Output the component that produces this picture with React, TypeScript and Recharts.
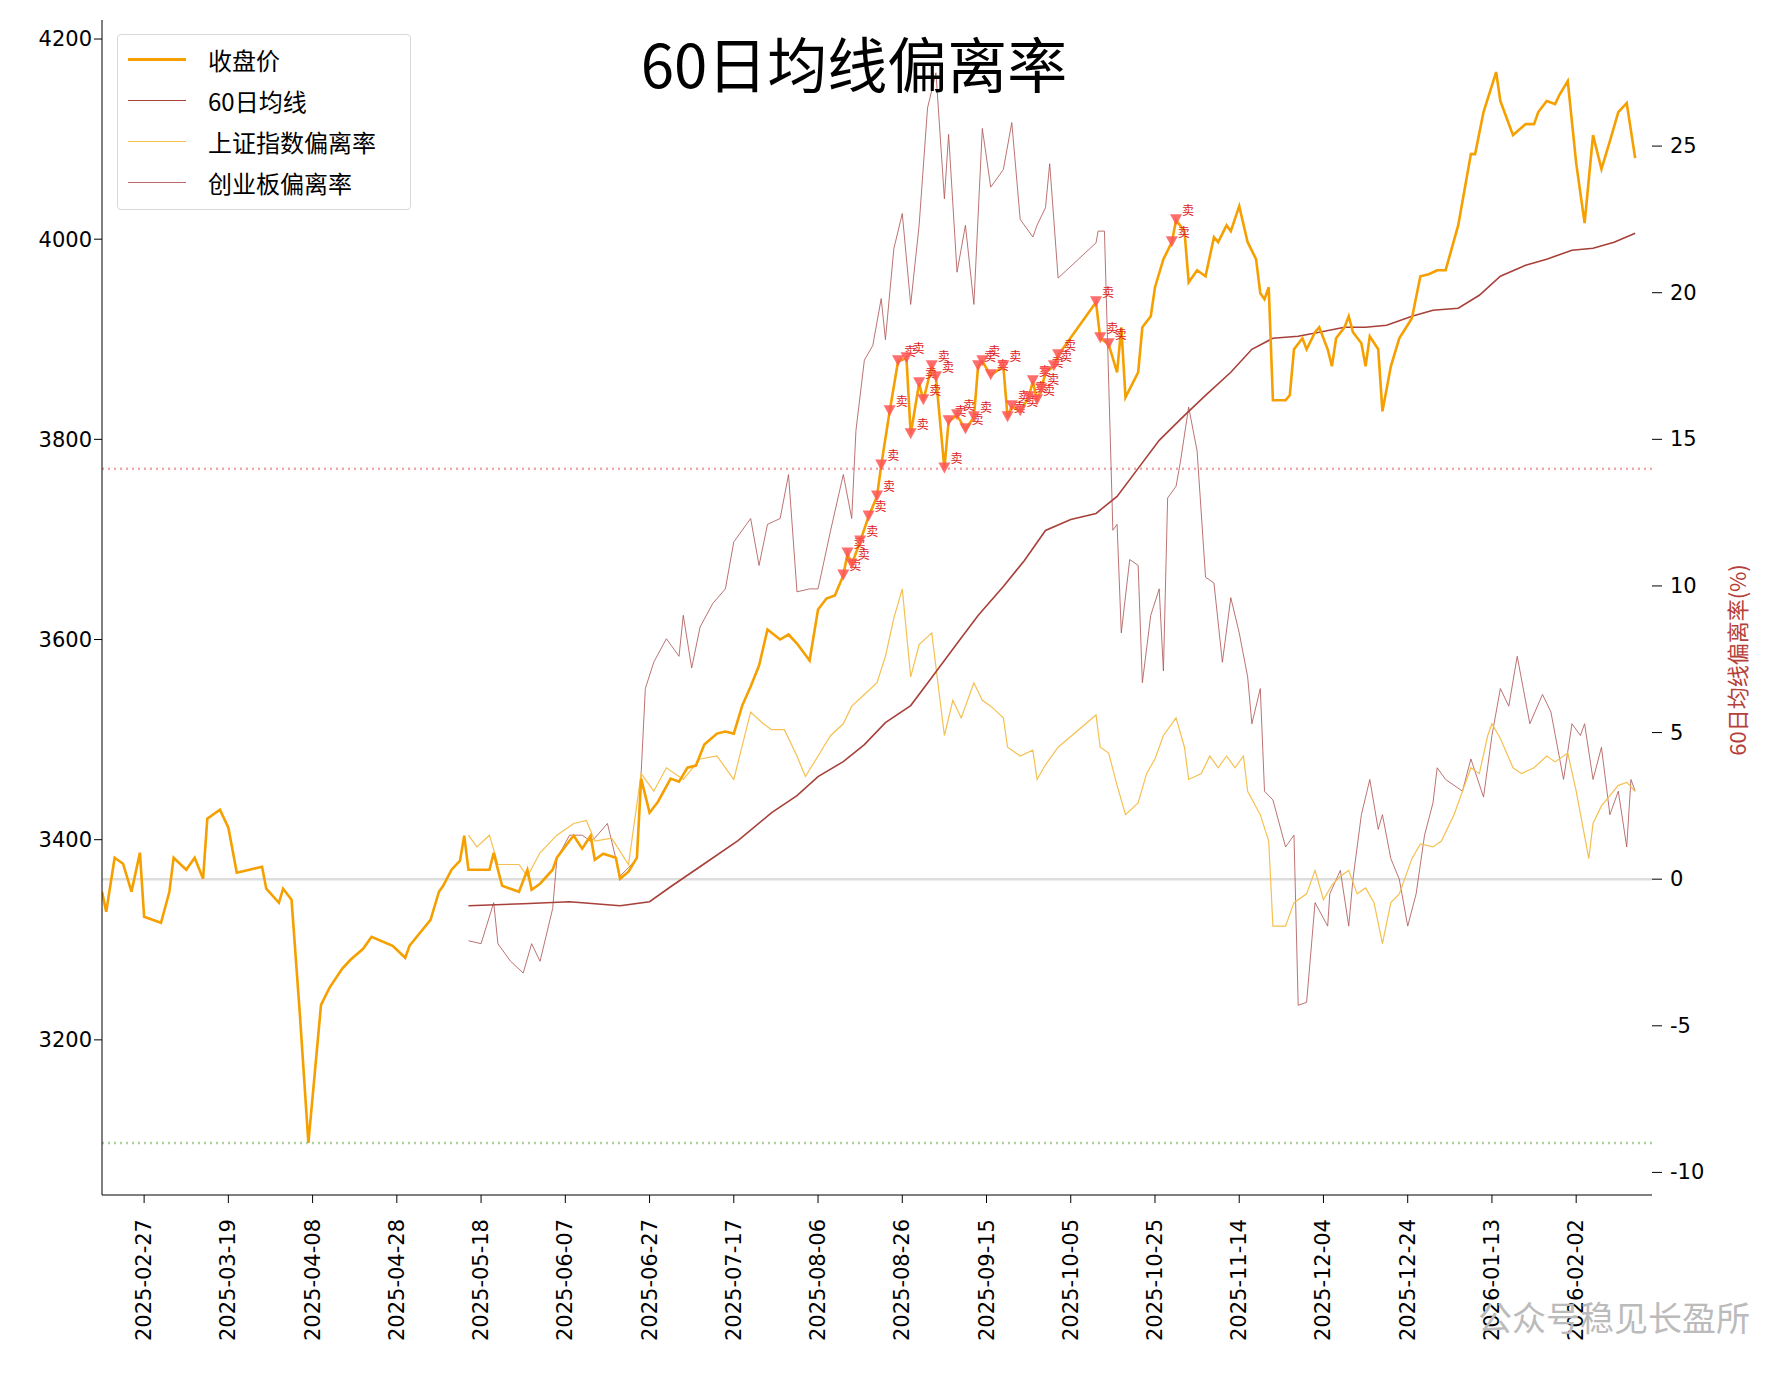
import React from 'react';
import {
  ComposedChart,
  Line,
  Scatter,
  XAxis,
  YAxis,
  ReferenceLine,
} from 'recharts';

// x values are day offsets from 2025-02-27
const tickDays = [0, 20, 40, 60, 80, 100, 120, 140, 160, 180, 200, 220, 240, 260, 280, 300, 320, 340];
const tickLabels = [
  '2025-02-27', '2025-03-19', '2025-04-08', '2025-04-28', '2025-05-18', '2025-06-07',
  '2025-06-27', '2025-07-17', '2025-08-06', '2025-08-26', '2025-09-15', '2025-10-05',
  '2025-10-25', '2025-11-14', '2025-12-04', '2025-12-24', '2026-01-13', '2026-02-02',
];

const closeDays = [
  -10, -9, -7, -5, -3, -1, 0, 4, 6, 7, 10, 12, 14, 15, 18, 20, 22, 25, 28, 29, 32, 33, 35, 37, 39,
  42, 44, 47, 49, 52, 54, 59, 62, 63, 68, 70, 71, 73, 75, 76, 77, 79, 82, 83, 84, 85, 89, 91, 92,
  94, 97, 98, 101, 102, 104, 106, 107, 109, 112, 113, 115, 117, 118, 120, 122, 125, 127, 129, 131,
  133, 136, 138, 140, 142, 144, 146, 148, 151, 153, 155, 158, 160, 162, 164, 166, 167, 168, 170,
  172, 174, 175, 177, 179, 181, 182, 184, 185, 187, 188, 190, 191, 193, 195, 197, 198, 199, 201,
  204, 205, 206, 208, 210, 211, 212, 213, 214, 216, 217, 226, 227, 229, 231, 232, 233, 236, 237,
  239, 240, 242, 244, 245, 247, 248, 250, 252, 254, 255, 257, 258, 260, 262, 264, 265, 266, 267,
  268, 271, 272, 273, 275, 276, 278, 279, 281, 282, 283, 285, 286, 287, 289, 290, 291, 293, 294,
  296, 298, 301, 303, 305, 307, 309, 312, 315, 316, 318, 321, 322, 325, 328, 330, 331, 333, 335,
  336, 338, 340, 342, 344, 346, 348, 350, 352, 354,
];
const closeVals = [
  3348, 3328, 3382, 3376, 3348, 3387, 3323, 3317, 3348, 3382, 3370, 3382, 3361, 3421, 3430, 3412,
  3367, 3370, 3373, 3351, 3337, 3351, 3340, 3224, 3097, 3235, 3252, 3271, 3280, 3291, 3303, 3294,
  3282, 3294, 3320, 3348, 3354, 3370, 3379, 3404, 3370, 3370, 3370, 3387, 3370, 3354, 3348, 3370,
  3350, 3356, 3370, 3382, 3399, 3404, 3391, 3404, 3380, 3386, 3382, 3361, 3368, 3382, 3461, 3427,
  3438, 3461, 3458, 3472, 3474, 3495, 3506, 3508, 3506, 3534, 3553, 3574, 3610, 3600, 3605, 3596,
  3579, 3630, 3641, 3644, 3664, 3686, 3675, 3698, 3723, 3743, 3774, 3828, 3878, 3881, 3805, 3856,
  3839, 3873, 3862, 3771, 3818, 3824, 3810, 3822, 3873, 3878, 3864, 3873, 3822, 3833, 3828, 3842,
  3858, 3839, 3850, 3867, 3873, 3884, 3937, 3901, 3895, 3867, 3912, 3842, 3867, 3912, 3923, 3952,
  3980, 3997, 4019, 4008, 3957, 3969, 3963, 4002, 3997, 4014, 4008, 4033, 3997, 3980, 3946, 3940,
  3952, 3839, 3839, 3844, 3890, 3901, 3890, 3907, 3912, 3890, 3873, 3901, 3912, 3923, 3907, 3896,
  3873, 3903, 3890, 3828, 3873, 3901, 3921, 3963, 3965, 3969, 3969, 4014, 4085, 4085, 4127, 4167,
  4138, 4104, 4115, 4115, 4127, 4138, 4135, 4144, 4158, 4076, 4016, 4104, 4070, 4098, 4127, 4136,
  4081,
];

const maDays = [
  77, 90, 101, 113, 120, 125, 133, 141, 149, 155, 160, 166, 171, 176, 182, 187, 193, 198, 204, 209,
  214, 220, 226, 231, 236, 241, 247, 252, 258, 263, 268, 274, 279, 285, 290, 295, 301, 306, 312,
  317, 322, 328, 333, 339, 344, 349, 354,
];
const maVals = [
  3334, 3336, 3338, 3334, 3338, 3353, 3376, 3399, 3427, 3444, 3463, 3478, 3495, 3517, 3534, 3562,
  3596, 3624, 3653, 3679, 3709, 3720, 3726, 3743, 3771, 3799, 3824, 3844, 3867, 3890, 3901, 3903,
  3907, 3912, 3912, 3914, 3923, 3929, 3931, 3944, 3963, 3974, 3980, 3989, 3991, 3997, 4006,
];

const shDays = [
  77, 79, 82, 84, 89, 91, 94, 98, 102, 105, 107, 111, 115, 118, 121, 124, 128, 132, 136, 140, 144,
  147, 149, 152, 155, 157, 160, 163, 166, 168, 171, 174, 176, 178, 180, 182, 184, 187, 190, 192,
  194, 197, 199, 201, 204, 205, 208, 211, 212, 214, 217, 226, 227, 229, 231, 233, 236, 238, 240,
  242, 245, 247, 248, 251, 253, 255, 257, 259, 261, 262, 265, 267, 268, 271, 273, 276, 278, 280,
  282, 284, 286, 288, 290, 292, 294, 296, 298, 301, 303, 306, 308, 311, 315, 317, 319, 320, 322,
  325, 327, 330, 333, 335, 338, 340, 343, 344, 346, 350, 352, 354,
];
const shVals = [
  1.5, 1.1, 1.5, 0.5, 0.5, 0.1, 0.9, 1.5, 1.9, 2.0, 1.3, 1.4, 0.5, 3.6, 3.0, 3.8, 3.4, 4.1, 4.2,
  3.4, 5.7, 5.3, 5.1, 5.1, 4.2, 3.5, 4.2, 4.9, 5.3, 5.9, 6.3, 6.7, 7.6, 8.9, 9.9, 6.9, 8.0, 8.4,
  4.9, 6.1, 5.5, 6.7, 6.1, 5.9, 5.5, 4.5, 4.2, 4.4, 3.4, 3.9, 4.5, 5.6, 4.5, 4.3, 3.2, 2.2, 2.6,
  3.6, 4.1, 4.9, 5.5, 4.5, 3.4, 3.6, 4.2, 3.8, 4.2, 3.8, 4.2, 3.0, 2.2, 1.3, -1.6, -1.6, -0.8,
  -0.5, 0.3, -0.7, -0.2, 0.1, 0.3, -0.5, -0.3, -0.8, -2.2, -0.8, -0.5, 0.7, 1.2, 1.1, 1.3, 2.2,
  3.8, 3.6, 4.9, 5.3, 4.8, 3.8, 3.6, 3.8, 4.2, 4.0, 4.3, 3.0, 0.7, 1.9, 2.5, 3.2, 3.3, 3.0,
];

const cyDays = [
  77, 80, 83, 84, 87, 90, 92, 94, 97, 98, 101, 104, 106, 107, 110, 113, 115, 117, 119, 121, 124,
  127, 128, 130, 132, 135, 138, 140, 144, 146, 148, 151, 153, 155, 158, 160, 163, 166, 168, 169,
  171, 173, 175, 176, 178, 180, 182, 184, 186, 188, 190, 191, 193, 195, 197, 199, 201, 204, 206,
  208, 211, 212, 214, 215, 217, 226, 226.5, 228, 230, 231, 232, 234, 236, 237, 239, 241, 242, 243,
  245, 246, 248, 250, 252, 254, 256, 258, 260, 262, 263, 265, 266, 268, 271, 273, 274, 276, 278,
  281, 281.5, 284, 286, 287, 289, 291, 293, 294, 296, 298, 300, 302, 304, 306, 307, 309, 313, 315,
  318, 320, 322, 324, 326, 329, 332, 334, 337, 339, 341, 342, 344, 346, 348, 350, 352, 353, 354,
];
const cyVals = [
  -2.1, -2.2, -0.8, -2.2, -2.8, -3.2, -2.2, -2.8, -1.0, 0.7, 1.5, 1.5, 1.3, 1.4, 1.9, 0.1, 0.4,
  0.7, 6.5, 7.4, 8.2, 7.6, 9.0, 7.2, 8.6, 9.4, 9.9, 11.5, 12.3, 10.7, 12.1, 12.3, 13.8, 9.8, 9.9,
  9.9, 11.9, 13.8, 12.3, 15.3, 17.7, 18.2, 19.8, 18.4, 21.5, 22.7, 19.6, 22.3, 26.3, 27.5, 23.2,
  25.4, 20.7, 22.3, 19.6, 25.6, 23.6, 24.2, 25.8, 22.5, 21.9, 22.3, 22.9, 24.4, 20.5, 21.7, 22.1,
  22.1, 11.9, 12.1, 8.4, 10.9, 10.7, 6.7, 9.0, 9.9, 7.1, 13.0, 13.4, 14.2, 16.1, 14.6, 10.3, 10.1,
  7.4, 9.6, 8.4, 6.9, 5.3, 6.5, 3.0, 2.7, 1.1, 1.5, -4.3, -4.2, -0.8, -1.6, -0.5, 0.3, -1.6, 0.0,
  2.2, 3.4, 1.7, 2.2, 0.7, 0.0, -1.6, -0.5, 1.5, 2.6, 3.8, 3.4, 3.0, 4.1, 2.8, 4.9, 6.5, 5.9, 7.6,
  5.3, 6.3, 5.7, 3.4, 5.3, 4.9, 5.3, 3.4, 4.5, 2.2, 3.0, 1.1, 3.4, 3.0, 1.9, 3.4, 1.7,
];

const sellDays = [
  166, 167, 168, 170, 172, 174, 175, 177, 179, 181, 182, 184, 185, 187, 188, 190, 191, 193, 195,
  197, 198, 199, 201, 204, 205, 206, 208, 210, 211, 212, 213, 214, 216, 217, 226, 227, 229, 244, 245,
];

const closeData = closeDays.map((d, i) => ({ d, v: closeVals[i] }));
const maData = maDays.map((d, i) => ({ d, v: maVals[i] }));
const shData = shDays.map((d, i) => ({ d, v: shVals[i] }));
const cyData = cyDays.map((d, i) => ({ d, v: cyVals[i] }));
const sellData = closeData.filter((p) => sellDays.includes(p.d));

const FONT = '"Noto Sans CJK SC", "Noto Sans", sans-serif';
const NUM_FONT = '"DejaVu Sans", sans-serif';

if (typeof document !== 'undefined') document.body.style.margin = '0';

const SellMark = (props: any) => {
  const { cx, cy } = props;
  if (cx == null || cy == null) return null;
  return (
    <g>
      <path d={`M${cx - 6},${cy - 6} L${cx + 6},${cy - 6} L${cx},${cy + 5} Z`} fill="#ff5555" fillOpacity={0.85} />
      <text x={cx + 6} y={cy - 5} fontSize={12} fill="#dd2222" fontFamily={FONT}>卖</text>
    </g>
  );
};

const DateTick = (props: any) => {
  const { x, y, payload } = props;
  const i = tickDays.indexOf(payload.value);
  return (
    <text x={x} y={y + 14} transform={`rotate(-90 ${x} ${y + 14})`} textAnchor="end" dominantBaseline="central"
      fontSize={21} fill="#000" fontFamily={NUM_FONT}>
      {i >= 0 ? tickLabels[i] : ''}
    </text>
  );
};

const RightTick = (props: any) => {
  const { x, y, payload } = props;
  return (
    <text x={x + 6} y={y} dominantBaseline="central" fontSize={21} fill="#000" fontFamily={NUM_FONT}>
      {payload.value}
    </text>
  );
};

const legendItems = [
  { label: '收盘价', color: '#f5a000', w: 3 },
  { label: '60日均线', color: '#a8403a', w: 1.5 },
  { label: '上证指数偏离率', color: '#f5c050', w: 1.2 },
  { label: '创业板偏离率', color: '#b86a6a', w: 1.2 },
];

export default function App() {
  return (
    <div style={{ position: 'relative', width: 1770, height: 1376, background: '#fff', fontFamily: FONT }}>
      <ComposedChart width={1770} height={1376} margin={{ top: 20, right: 0, left: 0, bottom: 0 }}>
        <XAxis type="number" dataKey="d" domain={[-10, 358]} ticks={tickDays} allowDataOverflow
          height={181} tick={<DateTick />} tickSize={8} stroke="#000" tickLine={{ stroke: '#000' }} />
        <YAxis yAxisId="left" type="number" domain={[3045, 4219]} ticks={[3200, 3400, 3600, 3800, 4000, 4200]}
          width={102} stroke="#000" tickSize={8} allowDataOverflow
          tick={{ fontSize: 21, fill: '#000', fontFamily: NUM_FONT }} />
        <YAxis yAxisId="right" orientation="right" type="number" domain={[-10.77, 29.3]}
          ticks={[-10, -5, 0, 5, 10, 15, 20, 25]} width={118} axisLine={false} tickSize={10}
          tickLine={{ stroke: '#000' }} allowDataOverflow tick={<RightTick />} />
        <ReferenceLine yAxisId="right" y={0} stroke="#dddddd" strokeWidth={2.5} />
        <ReferenceLine yAxisId="right" y={14} stroke="#f2a8a8" strokeWidth={2.5} strokeDasharray="2 4" />
        <ReferenceLine yAxisId="right" y={-9} stroke="#a8d49c" strokeWidth={2.5} strokeDasharray="2 4" />
        <Line yAxisId="right" data={cyData} dataKey="v" stroke="#b05a5a" strokeOpacity={0.85} strokeWidth={1}
          dot={false} isAnimationActive={false} />
        <Line yAxisId="right" data={shData} dataKey="v" stroke="#f5c050" strokeWidth={1.2}
          dot={false} isAnimationActive={false} />
        <Line yAxisId="left" data={maData} dataKey="v" stroke="#a8403a" strokeWidth={1.6}
          dot={false} isAnimationActive={false} />
        <Line yAxisId="left" data={closeData} dataKey="v" stroke="#f5a000" strokeWidth={2.6}
          dot={false} isAnimationActive={false} />
        <Scatter yAxisId="left" data={sellData} dataKey="v" shape={<SellMark />} isAnimationActive={false} />
      </ComposedChart>

      <div style={{ position: 'absolute', left: 117, top: 34, width: 294, height: 176, border: '1.5px solid #d8d8d8',
        borderRadius: 4, background: 'rgba(255,255,255,0.85)', boxSizing: 'border-box', padding: '4px 10px' }}>
        {legendItems.map((it) => (
          <div key={it.label} style={{ display: 'flex', alignItems: 'center', height: 41 }}>
            <div style={{ width: 58, height: it.w, background: it.color, marginRight: 22 }} />
            <span style={{ fontSize: 24, color: '#000' }}>{it.label}</span>
          </div>
        ))}
      </div>

      <div style={{ position: 'absolute', left: 0, width: 1708, top: 18, textAlign: 'center', fontSize: 60, color: '#000' }}>
        60日均线偏离率
      </div>

      <div style={{ position: 'absolute', left: 1736, top: 660, transform: 'translate(-50%, -50%) rotate(-90deg)',
        whiteSpace: 'nowrap', fontSize: 22, color: '#b5403a' }}>
        60日均线偏离率(%)
      </div>

      <div style={{ position: 'absolute', left: 1478, top: 1292, whiteSpace: 'nowrap', fontSize: 34, color: '#bbbbbb' }}>
        公众号稳见长盈所
      </div>
    </div>
  );
}
